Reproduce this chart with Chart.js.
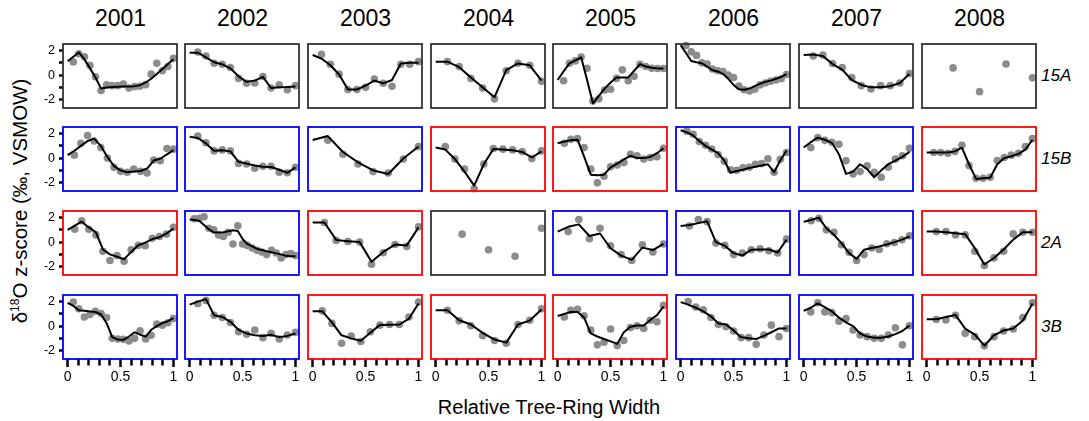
<!DOCTYPE html>
<html><head><meta charset="utf-8">
<script src="https://cdn.jsdelivr.net/npm/chart.js@4.4.1/dist/chart.umd.min.js"></script>
<style>
html,body{margin:0;padding:0;background:#fff;}
#wrap{position:relative;width:1089px;height:421px;overflow:hidden;font-family:'Liberation Sans',Arial,Helvetica,sans-serif;color:#000;}
#wrap canvas{position:absolute;}
.yr{position:absolute;top:5px;text-align:center;font-size:23px;line-height:26px;}
.site{position:absolute;left:1041px;font-size:17px;font-style:italic;line-height:20px;}
#xt{position:absolute;left:0;width:1098px;top:395px;text-align:center;font-size:20px;line-height:24px;}
#yt{position:absolute;left:-140px;top:189px;width:320px;text-align:center;font-size:20.5px;line-height:24px;transform:rotate(-90deg);transform-origin:50% 50%;white-space:nowrap;}
#yt sup{font-size:12px;vertical-align:8px;line-height:0;}
</style></head>
<body>
<div id="wrap">
  <div id="xt">Relative Tree-Ring Width</div>
  <div id="yt">δ<sup>18</sup>O z-score (‰, VSMOW)</div>
</div>
<script>
// ---------- categories ----------
const years = ['2001','2002','2003','2004','2005','2006','2007','2008'];
const sites = ['15A','15B','2A','3B'];

// panel frame status: n = none (black), b = blue, r = red
const status15A = ['n','n','n','n','n','n','n','n'];
const status15B = ['b','b','b','r','r','b','b','r'];
const status2A  = ['r','b','r','n','b','b','b','r'];
const status3B  = ['b','b','r','r','r','b','b','r'];

// ---------- tick values ----------
const xTickValues = [0,0.1,0.2,0.3,0.4,0.5,0.6,0.7,0.8,0.9,1];
const xTickLabels = [0,0.5,1];
const yTickValues = [-2,-1,0,1,2];
const yTickLabels = [-2,0,2];

// ---------- relative positions of the ring sections ----------
const x4  = [0.25,0.5,0.75,1];
const x7  = [0.143,0.286,0.429,0.571,0.714,0.857,1];
const x9  = [0.111,0.222,0.333,0.444,0.556,0.667,0.778,0.889,1];
const x10 = [0.1,0.2,0.3,0.4,0.5,0.6,0.7,0.8,0.9,1];
const x11 = [0.091,0.182,0.273,0.364,0.455,0.545,0.636,0.727,0.818,0.909,1];
const x12 = [0.083,0.167,0.25,0.333,0.417,0.5,0.583,0.667,0.75,0.833,0.917,1];
const x13 = [0.077,0.154,0.231,0.308,0.385,0.462,0.538,0.615,0.692,0.769,0.846,0.923,1];
const x14 = [0.071,0.143,0.214,0.286,0.357,0.429,0.5,0.571,0.643,0.714,0.786,0.857,0.929,1];
const x15 = [0.067,0.133,0.2,0.267,0.333,0.4,0.467,0.533,0.6,0.667,0.733,0.8,0.867,0.933,1];
const x16 = [0.063,0.125,0.188,0.25,0.313,0.375,0.438,0.5,0.563,0.625,0.688,0.75,0.813,0.875,0.938,1];
const x17 = [0.059,0.118,0.176,0.235,0.294,0.353,0.412,0.471,0.529,0.588,0.647,0.706,0.765,0.824,0.882,0.941,1];
const x18 = [0.056,0.111,0.167,0.222,0.278,0.333,0.389,0.444,0.5,0.556,0.611,0.667,0.722,0.778,0.833,0.889,0.944,1];
const x19 = [0.053,0.105,0.158,0.211,0.263,0.316,0.368,0.421,0.474,0.526,0.579,0.632,0.684,0.737,0.789,0.842,0.895,0.947,1];
const x20 = [0.05,0.1,0.15,0.2,0.25,0.3,0.35,0.4,0.45,0.5,0.55,0.6,0.65,0.7,0.75,0.8,0.85,0.9,0.95,1];
const x21 = [0.048,0.095,0.143,0.19,0.238,0.286,0.333,0.381,0.429,0.476,0.524,0.571,0.619,0.667,0.714,0.762,0.81,0.857,0.905,0.952,1];
const x22 = [0.045,0.091,0.136,0.182,0.227,0.273,0.318,0.364,0.409,0.455,0.5,0.545,0.591,0.636,0.682,0.727,0.773,0.818,0.864,0.909,0.955,1];

// ---------- series: p = measured z-scores, l = fitted line (first value at x = 0) ----------
// site 15A
const p15A_2001 = [1.08,1.75,1.5,0.8,-0.13,-1.26,-0.8,-0.86,-0.86,-0.73,-1.05,-0.94,-0.91,-0.78,0.08,0.97,0.35,0.7,1.37];
const l15A_2001 = [1.13,1.5,1.85,1.3,0.55,-0.2,-1.1,-1.02,-0.98,-0.95,-0.93,-0.92,-0.9,-0.82,-0.6,-0.3,0.1,0.5,0.9,1.3];
const p15A_2002 = [1.88,1.56,0.97,0.89,0.62,-0.27,-0.67,-0.65,-0.11,-1.05,-0.8,-1.2,-0.86];
const l15A_2002 = [1.83,1.83,1.45,1.05,0.88,0.55,-0.1,-0.55,-0.45,-0.15,-1.05,-1.0,-0.97,-0.92];
const p15A_2003 = [1.69,0.89,0.08,-1.18,-1.18,-1.0,-0.32,-0.67,-0.91,0.89,0.89,1.1];
const l15A_2003 = [1.64,1.35,0.8,0.05,-1.18,-1.18,-0.85,-0.45,-0.67,-0.4,0.95,1.0,1.0];
const p15A_2004 = [1.1,0.7,-0.27,-1.05,-1.94,0.35,0.97,0.8,-0.51];
const l15A_2004 = [1.1,1.1,0.65,-0.2,-1.0,-1.8,0.4,0.95,0.8,-0.45];
const p15A_2005 = [-0.46,0.97,1.16,1.48,0.56,-2.12,-1.94,-1.21,-1.15,-0.27,0.43,-0.46,-0.1,0.89,0.7,0.56,0.54,0.54];
const l15A_2005 = [-0.4,0.3,0.95,1.2,1.45,-0.4,-2.3,-1.7,-1.1,-0.6,-0.19,-0.19,-0.19,0.35,0.9,0.7,0.6,0.55,0.55];
const p15A_2006 = [2.42,1.9,1.61,1.0,0.9,0.5,0.35,0.3,0.0,-0.2,-0.9,-1.2,-1.3,-1.15,-0.8,-0.65,-0.5,-0.4,-0.3,0.05];
const l15A_2006 = [2.45,1.8,1.15,1.05,0.97,0.7,0.4,0.3,0.1,-0.3,-0.8,-1.15,-1.2,-1.1,-0.9,-0.7,-0.55,-0.45,-0.3,-0.15,0.08];
const p15A_2007 = [1.56,1.64,0.95,0.62,-0.2,-0.86,-1.13,-0.86,-0.86,-0.65,0.13];
const l15A_2007 = [1.64,1.69,1.55,0.9,0.45,-0.4,-0.8,-1.0,-1.0,-0.9,-0.65,0.1];
const p15A_2008 = [0.59,-1.35,0.91,-0.22];
const l15A_2008 = null;
// site 15B
const p15B_2001 = [0.24,1.21,1.85,1.4,0.86,0,-0.75,-1.08,-1.16,-0.89,-1.08,-1.21,-0.16,-0.22,0.78,0.73];
const l15B_2001 = [0.24,0.6,1.0,1.4,1.59,1.0,0.1,-0.65,-1.0,-1.15,-1.1,-1.05,-0.85,-0.2,-0.05,0.3,0.65];
const p15B_2002 = [1.8,1.26,0.59,0.67,0.59,-0.43,-0.48,-0.83,-0.67,-0.67,-1.16,-1.2,-0.75];
const l15B_2002 = [1.75,1.65,1.2,0.6,0.65,0.55,-0.3,-0.45,-0.6,-0.7,-0.72,-0.95,-1.2,-0.75];
const p15B_2003 = [1.45,0.32,-0.48,-1.1,-1.21,-0.08,0.94];
const l15B_2003 = [1.48,1.8,0.5,-0.35,-1.0,-1.3,-0.03,0.95];
const p15B_2004 = [0.94,-0.08,-0.89,-2.5,-0.48,0.78,0.73,0.67,0.54,-0.03,0.59];
const l15B_2004 = [0.86,0.7,-0.08,-1.1,-2.25,-0.5,0.75,0.7,0.65,0.5,0.05,0.55];
const p15B_2005 = [1.21,1.53,1.59,0.86,-0.89,-2.02,-1.48,-0.7,-0.56,-0.35,0.32,0.19,-0.08,0.05,0.11,0.81];
const l15B_2005 = [1.21,1.35,1.45,1.5,0.13,-1.35,-1.4,-1.35,-0.75,-0.45,-0.1,0.19,0.0,0.0,0.1,0.4,0.8];
const p15B_2006 = [2.2,1.95,1.35,1.05,0.75,0.3,-0.25,-0.95,-1.0,-0.8,-0.75,-0.5,-0.45,-0.05,-1.16,-0.1,0.46];
const l15B_2006 = [2.28,2.1,1.85,1.4,1.0,0.7,0.4,-0.2,-1.2,-1.05,-0.95,-0.8,-0.7,-0.6,-0.5,-1.15,-0.2,0.6];
const p15B_2007 = [0.86,1.67,1.45,1.3,1.13,-0.22,-1.29,-1.1,-0.62,-1.16,-1.56,-0.75,-0.08,0.19,0.81];
const l15B_2007 = [0.86,1.3,1.67,1.5,1.25,0.32,-1.29,-1.1,-0.5,-0.9,-1.56,-1.0,-0.5,-0.2,0.1,0.51];
const p15B_2008 = [0.46,0.46,0.4,0.55,1.05,-0.6,-1.64,-1.64,-1.56,-0.2,0.05,0.24,0.4,0.94,1.59];
const l15B_2008 = [0.46,0.46,0.45,0.45,0.55,0.85,-0.5,-1.7,-1.65,-1.6,-0.5,0.0,0.15,0.35,0.7,1.5];
// site 2A
const p2A_2001 = [1.05,1.75,1.05,0.59,-0.75,-1.5,-1.1,-1.56,-0.62,-0.27,-0.3,0.32,0.46,0.65,1.21];
const l2A_2001 = [1.0,1.35,1.67,1.2,0.8,-0.6,-1.0,-1.2,-1.4,-0.8,-0.25,-0.05,0.25,0.4,0.7,1.1];
const p2A_2002 = [1.9,1.94,2.07,1.13,1.0,0.59,0.46,0.81,-0.16,1.34,-0.16,-0.27,-0.48,-0.67,-0.81,-1.02,-0.67,-0.89,-1.29,-1.02,-0.94,-1.1];
const l2A_2002 = [1.85,1.8,1.75,1.4,1.05,0.8,0.78,0.8,0.88,0.97,0.9,0.25,-0.15,-0.35,-0.55,-0.65,-0.75,-0.82,-0.92,-1.0,-1.12,-1.16,-1.16];
const p2A_2003 = [1.6,0.13,0.05,0.0,-1.8,-0.87,-0.2,-0.35,1.26];
const l2A_2003 = [1.6,1.6,0.18,0.08,0.0,-1.6,-0.8,-0.2,-0.27,1.2];
const p2A_2004 = [0.65,-0.62,-1.16,1.13];
const l2A_2004 = null;
const p2A_2005 = [0.86,1.85,0.27,1.13,-0.3,-1.02,-1.5,-0.22,-0.81,-0.16];
const l2A_2005 = [0.86,1.25,1.45,0.5,0.7,-0.5,-1.1,-1.45,-0.45,-0.65,-0.15];
const p2A_2006 = [1.32,1.85,1.67,-0.08,-0.27,-1.02,-0.9,-0.62,-0.54,-0.7,-0.89,0.24];
const l2A_2006 = [1.32,1.4,1.55,1.7,0.0,-0.3,-0.9,-1.1,-0.62,-0.6,-0.6,-0.85,0.2];
const p2A_2007 = [1.75,1.94,1.0,0.81,-0.22,-0.83,-1.5,-1.02,-0.48,-0.6,-0.13,-0.03,0.19,0.51];
const l2A_2007 = [1.67,1.8,2.0,1.13,0.6,-0.08,-0.9,-1.37,-0.62,-0.48,-0.35,-0.2,0.0,0.2,0.46];
const p2A_2008 = [0.86,0.86,0.59,0.59,-0.75,-1.91,-1.29,-0.75,0.67,0.81,0.81];
const l2A_2008 = [0.86,0.86,0.8,0.72,0.65,-0.5,-1.83,-1.3,-0.6,0.2,0.81,0.81];
// site 3B
const p3B_2001 = [1.96,1.42,0.75,0.94,1.21,1.02,0.7,-1.0,-1.05,-1.08,-1.21,-1.0,-0.38,-1.05,-0.75,0.16,0.08,0.27,0.62];
const l3B_2001 = [1.9,1.65,1.3,1.25,1.2,1.15,0.95,0.24,-0.9,-1.1,-1.13,-0.85,-0.5,-0.7,-0.85,-0.3,0.0,0.25,0.4,0.65];
const p3B_2002 = [1.83,2.1,0.89,0.7,0.3,-0.46,-0.67,-0.32,-0.94,-0.59,-1.05,-0.73,-0.51];
const l3B_2002 = [1.75,2.0,2.2,0.89,0.75,0.35,-0.3,-0.6,-0.75,-0.8,-0.7,-0.9,-0.8,-0.6];
const p3B_2003 = [1.24,0.22,-1.4,-0.81,-1.26,-0.46,0.08,0.13,0.13,0.75,1.96];
const l3B_2003 = [1.21,1.21,0.3,-0.75,-1.0,-1.2,-0.55,0.1,0.12,0.13,0.6,1.85];
const p3B_2004 = [1.29,0.43,0.03,-0.78,-1.18,-1.4,0.13,0.48,1.42];
const l3B_2004 = [1.29,1.29,0.48,0.13,-0.55,-1.1,-1.35,0.13,0.45,1.35];
const p3B_2005 = [0.75,1.29,1.37,0.85,-0.32,-1.53,-1.32,-0.24,-1.59,-1.18,-0.11,0.03,-0.19,0.48,0.35,1.69];
const l3B_2005 = [0.83,1.0,1.15,1.15,0.7,-0.6,-0.85,-1.05,-1.25,-1.45,-0.5,-0.05,0.05,0.05,0.5,0.9,1.6];
const p3B_2006 = [2.0,1.56,1.34,0.7,0.13,-0.05,-0.4,-0.94,-0.94,-1.48,-0.73,0.08,-0.86,-0.19];
const l3B_2006 = [1.96,1.75,1.5,1.2,0.8,0.22,0.13,-0.35,-0.9,-1.0,-1.05,-0.8,-0.5,-0.19,-0.19];
const p3B_2007 = [1.16,1.91,1.16,1.1,0.4,0.62,-0.32,-0.73,-0.86,-1.0,-1.0,-0.73,-0.13,-1.53,0.03];
const l3B_2007 = [1.24,1.5,1.85,1.55,1.2,0.7,0.3,0.0,-0.6,-0.85,-0.95,-0.95,-0.85,-0.65,-0.4,0.05];
const p3B_2008 = [0.54,0.5,0.89,-0.59,-0.86,-1.61,-0.86,-0.4,-0.24,0.7,1.91];
const l3B_2008 = [0.56,0.56,0.75,0.9,-0.2,-0.7,-1.6,-0.75,-0.35,-0.2,0.45,1.85];

// ---------- tables built from the arrays ----------
const xBy = {4:x4,7:x7,9:x9,10:x10,11:x11,12:x12,13:x13,14:x14,15:x15,16:x16,17:x17,18:x18,19:x19,20:x20,21:x21,22:x22};
const pointsTable = {
  '15A':[p15A_2001,p15A_2002,p15A_2003,p15A_2004,p15A_2005,p15A_2006,p15A_2007,p15A_2008],
  '15B':[p15B_2001,p15B_2002,p15B_2003,p15B_2004,p15B_2005,p15B_2006,p15B_2007,p15B_2008],
  '2A':[p2A_2001,p2A_2002,p2A_2003,p2A_2004,p2A_2005,p2A_2006,p2A_2007,p2A_2008],
  '3B':[p3B_2001,p3B_2002,p3B_2003,p3B_2004,p3B_2005,p3B_2006,p3B_2007,p3B_2008]
};
const linesTable = {
  '15A':[l15A_2001,l15A_2002,l15A_2003,l15A_2004,l15A_2005,l15A_2006,l15A_2007,l15A_2008],
  '15B':[l15B_2001,l15B_2002,l15B_2003,l15B_2004,l15B_2005,l15B_2006,l15B_2007,l15B_2008],
  '2A':[l2A_2001,l2A_2002,l2A_2003,l2A_2004,l2A_2005,l2A_2006,l2A_2007,l2A_2008],
  '3B':[l3B_2001,l3B_2002,l3B_2003,l3B_2004,l3B_2005,l3B_2006,l3B_2007,l3B_2008]
};
const statusTable = {'15A':status15A,'15B':status15B,'2A':status2A,'3B':status3B};
const frameColor = {n:'#333333', b:'#0000ff', r:'#ff0000'};

// ---------- layout ----------
const FONT = "'Liberation Sans', Arial, Helvetica, sans-serif";
const COL0 = 62.6, COLSTEP = 122.7, ROW0 = 42.6, ROWSTEP = 83.8;
const W = 115, H = 65, AXL = 45, AXB = 30, PAD = 3;
const XMIN = -0.044, XMAX = 1.033, YMIN = -2.685, YMAX = 2.54;

const framePlugin = {
  id: 'frame',
  afterDatasetsDraw(chart, args, opts) {
    const a = chart.chartArea, ctx = chart.ctx;
    ctx.save();
    ctx.strokeStyle = opts.color;
    ctx.lineWidth = 1.8;
    ctx.setLineDash([]);
    ctx.strokeRect(a.left, a.top, a.right - a.left, a.bottom - a.top);
    ctx.restore();
  }
};

const wrap = document.getElementById('wrap');

years.forEach((yr, c) => {
  const left = Math.round(COL0 + c * COLSTEP);
  const d = document.createElement('div');
  d.className = 'yr'; d.style.left = left + 'px'; d.style.width = W + 'px';
  d.textContent = yr; wrap.appendChild(d);
});
sites.forEach((s, r) => {
  const top = Math.round(ROW0 + r * ROWSTEP);
  const d = document.createElement('div');
  d.className = 'site'; d.style.top = (top + H / 2 - 10) + 'px';
  d.textContent = s; wrap.appendChild(d);
});

sites.forEach((site, r) => {
  years.forEach((yr, c) => {
    const left = Math.round(COL0 + c * COLSTEP);
    const top = Math.round(ROW0 + r * ROWSTEP);
    const cv = document.createElement('canvas');
    cv.width = AXL + W + PAD; cv.height = PAD + H + AXB;
    cv.style.left = (left - AXL) + 'px'; cv.style.top = (top - PAD) + 'px';
    wrap.appendChild(cv);

    const isLeft = c === 0, isBottom = r === sites.length - 1;
    const pts = pointsTable[site][c];
    const line = linesTable[site][c];
    const px = xBy[pts.length];
    const datasets = [];
    if (line) {
      const lx = [0].concat(xBy[line.length - 1]);
      datasets.push({
        data: line.map((v, i) => ({x: lx[i], y: v})),
        showLine: true, borderColor: '#000', borderWidth: 2, pointRadius: 0,
        borderJoinStyle: 'round', fill: false, order: 0, clip: false
      });
    }
    datasets.push({
      data: pts.map((v, i) => ({x: px[i], y: v})),
      showLine: false, pointRadius: 3.8, pointBorderWidth: 0,
      pointBackgroundColor: '#8c8c8c', backgroundColor: '#8c8c8c', order: 1, clip: false
    });

    new Chart(cv, {
      type: 'scatter',
      data: {datasets},
      plugins: [framePlugin],
      options: {
        responsive: false, animation: false, devicePixelRatio: 1, events: [],
        layout: {padding: {left: 0, top: PAD, right: PAD, bottom: 0}},
        plugins: {legend: {display: false}, tooltip: {enabled: false}, frame: {color: frameColor[statusTable[site][c]]}},
        scales: {
          x: {
            type: 'linear', position: 'bottom', min: XMIN, max: XMAX,
            afterBuildTicks: s => { s.ticks = xTickValues.map(v => ({value: v})); },
            afterFit: s => { s.height = AXB; s.paddingLeft = 0; s.paddingRight = 0; s.paddingTop = 0; s.paddingBottom = 0; },
            border: {display: false},
            grid: {
              display: isBottom, drawOnChartArea: false, drawTicks: isBottom, color: '#000',
              tickLength: 8, tickWidth: 2.5, tickColor: '#000',
              tickBorderDash: ctx => (ctx.tick && xTickLabels.includes(ctx.tick.value)) ? [] : [6.5, 20]
            },
            ticks: {
              display: isBottom, autoSkip: false, maxRotation: 0, minRotation: 0, padding: 2,
              color: '#000', font: {family: FONT, size: 14},
              callback: v => xTickLabels.includes(v) ? String(v) : ''
            }
          },
          y: {
            type: 'linear', position: 'left', min: YMIN, max: YMAX,
            afterBuildTicks: s => { s.ticks = yTickValues.map(v => ({value: v})); },
            afterFit: s => { s.width = AXL; s.paddingTop = 0; s.paddingBottom = 0; s.paddingLeft = 0; s.paddingRight = 0; },
            border: {display: false},
            grid: {display: isLeft, drawOnChartArea: false, drawTicks: isLeft, color: '#000', tickLength: 4, tickWidth: 2.5, tickColor: '#000'},
            ticks: {
              display: isLeft, autoSkip: false, padding: 4,
              color: '#000', font: {family: FONT, size: 12.5},
              callback: v => yTickLabels.includes(v) ? String(v) : ''
            }
          }
        }
      }
    });
  });
});
</script>
</body></html>
